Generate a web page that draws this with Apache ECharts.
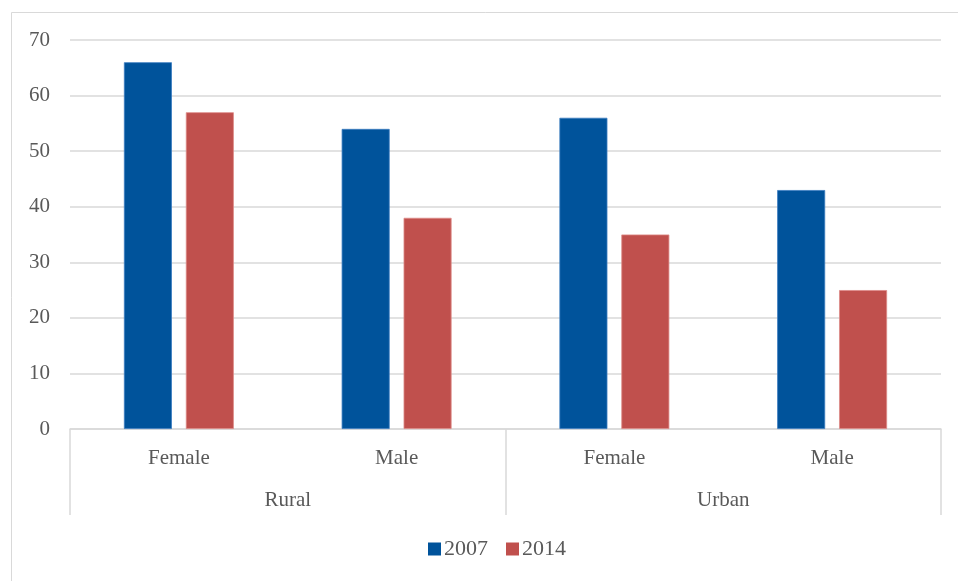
<!DOCTYPE html>
<html>
<head>
<meta charset="utf-8">
<script src="https://cdn.jsdelivr.net/npm/echarts@6/dist/echarts.min.js"></script>
<style>
html,body{margin:0;padding:0;background:#fff;}
#c{width:958px;height:581px;}
</style>
</head>
<body>
<div id="c"></div>
<script>
const categories = ['Female', 'Male', 'Female', 'Male'];
const groups = ['Rural', 'Urban'];
const seriesNames = ['2007', '2014'];
const values2007 = [66, 54, 56, 43];
const values2014 = [57, 38, 35, 25];

const font = '"Liberation Serif", "DejaVu Serif", serif';
const txt = '#595959';
const gridCol = '#d9d9d9';
const fs = 21;

const chart = echarts.init(document.getElementById('c'));
chart.setOption({
  animation: false,
  backgroundColor: '#fff',
  textStyle: { fontFamily: font },
  graphic: [{
    type: 'rect', left: 9, top: 10, silent: true,
    shape: { width: 1000, height: 700 },
    style: { fill: 'none', stroke: gridCol, lineWidth: 1 }
  }],
  grid: { left: 70, right: 17, top: 40, bottom: 152, containLabel: false },
  legend: {
    bottom: 16, left: 423,
    itemWidth: 13, itemHeight: 13, itemGap: 18,
    icon: 'rect',
    itemStyle: { borderWidth: 0 },
    textStyle: { fontFamily: font, fontSize: 22, color: txt, padding: [0, 0, 0, -2] },
    data: seriesNames
  },
  xAxis: [{
    type: 'category', data: categories, position: 'bottom',
    axisLine: { show: true, lineStyle: { color: gridCol, width: 1.5 } },
    axisTick: { show: false },
    axisLabel: { fontFamily: font, fontSize: fs, color: txt, margin: 19 }
  }, {
    type: 'category', data: groups, position: 'bottom',
    axisLine: { show: false },
    axisTick: { show: true, alignWithLabel: false, length: 86, lineStyle: { color: gridCol, width: 1.5 } },
    axisLabel: { fontFamily: font, fontSize: fs, color: txt, margin: 61 },
    splitLine: { show: false }
  }],
  yAxis: {
    type: 'value', min: 0, max: 70, interval: 10,
    axisLine: { show: false }, axisTick: { show: false },
    axisLabel: { fontFamily: font, fontSize: fs, color: txt, margin: 20 },
    splitLine: { lineStyle: { color: gridCol, width: 1.5 } }
  },
  series: [{
    name: seriesNames[0], type: 'bar', xAxisIndex: 0, data: values2007,
    barWidth: 48, barGap: '29%',
    itemStyle: { color: '#00539B', borderColor: '#3b7cc0', borderWidth: 0.8 }
  }, {
    name: seriesNames[1], type: 'bar', xAxisIndex: 0, data: values2014,
    barWidth: 48, barGap: '29%',
    itemStyle: { color: '#C0504D', borderColor: '#dd8a88', borderWidth: 0.8 }
  }]
});
</script>
</body>
</html>
